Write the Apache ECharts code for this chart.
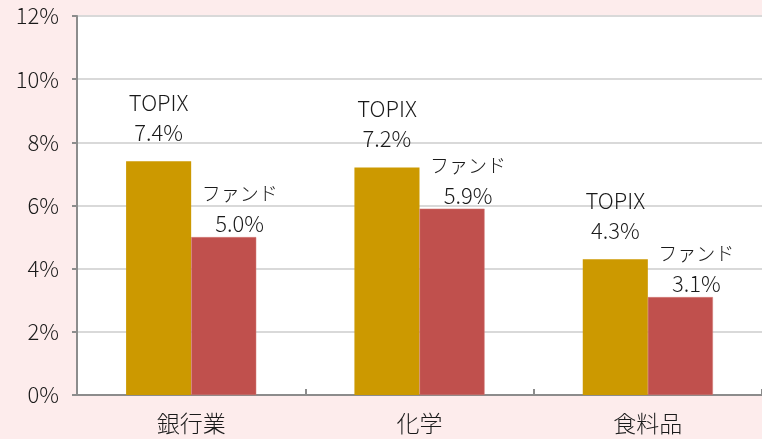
<!DOCTYPE html>
<html><head><meta charset="utf-8">
<script src="https://cdn.jsdelivr.net/npm/echarts@6/dist/echarts.min.js"></script>
<style>html,body{margin:0;padding:0;background:#FDECEC;}#c{width:762px;height:439px;}</style>
</head><body><div id="c"></div>
<script>
var categories = ['銀行業', '化学', '食料品'];
var topixValues = [7.4, 7.2, 4.3];
var fundValues = [5.0, 5.9, 3.1];
var seriesNames = ['TOPIX', 'ファンド'];
var yTicks = [0, 2, 4, 6, 8, 10, 12];

var NUM_FONT = "'Noto Sans CJK JP', sans-serif";
var JP_FONT = "'Noto Sans CJK JP', sans-serif";
var W = 300;
var chart = echarts.init(document.getElementById('c'), null, {renderer: 'canvas'});

function labelFor(name, isKana) {
  return {
    show: true,
    position: 'top',
    color: '#1a1a1a',
    lineHeight: 30,
    formatter: function (p) {
      return '{n|' + name + '}\n{v|' + p.value.toFixed(1) + '%}';
    },
    rich: {
      n: {fontFamily: isKana ? JP_FONT : NUM_FONT, fontWeight: W, fontSize: isKana ? 19 : 22, lineHeight: 30, color: '#1a1a1a'},
      v: {fontFamily: NUM_FONT, fontWeight: W, fontSize: 22, lineHeight: 30, color: '#1a1a1a'}
    }
  };
}

var topixLabel = labelFor(seriesNames[0], false);
topixLabel.distance = 14;
var fundLabel = labelFor(seriesNames[1], true);
fundLabel.distance = -2;
fundLabel.offset = [16, 0];

chart.setOption({
  backgroundColor: '#FDECEC',
  animation: false,
  grid: {left: 77, right: -8, top: 16, bottom: 44, show: true, backgroundColor: '#ffffff', borderWidth: 0},
  xAxis: {
    type: 'category',
    data: categories,
    axisLine: {lineStyle: {color: '#8c8c8c', width: 2}},
    axisTick: {show: true, inside: true, length: 6, lineStyle: {color: '#8c8c8c', width: 2}},
    axisLabel: {fontFamily: JP_FONT, fontWeight: W, fontSize: 23, color: '#1a1a1a', margin: 17}
  },
  yAxis: {
    type: 'value',
    min: yTicks[0],
    max: yTicks[yTicks.length - 1],
    interval: 2,
    axisLine: {show: true, lineStyle: {color: '#8c8c8c', width: 2}},
    axisTick: {show: true, length: 5, lineStyle: {color: '#8c8c8c', width: 2}},
    axisLabel: {fontFamily: NUM_FONT, fontWeight: W, fontSize: 22, color: '#1a1a1a', margin: 18, formatter: '{value}%'},
    splitLine: {show: true, lineStyle: {color: '#d9d9d9', width: 2}}
  },
  series: [
    {name: seriesNames[0], type: 'bar', data: topixValues, barGap: '0%', barCategoryGap: '43%',
     itemStyle: {color: '#CC9900'}, label: topixLabel},
    {name: seriesNames[1], type: 'bar', data: fundValues,
     itemStyle: {color: '#C0504D', borderColor: '#d27a77', borderWidth: 0.5}, label: fundLabel}
  ]
});
</script></body></html>
